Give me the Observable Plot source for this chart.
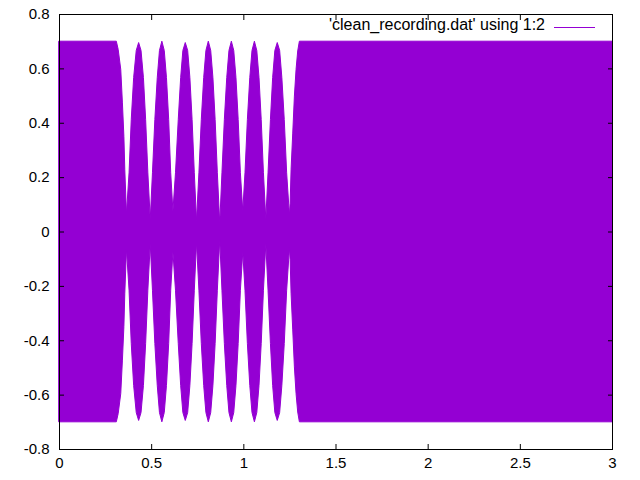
<!DOCTYPE html>
<html><head><meta charset="utf-8">
<script src="https://cdn.jsdelivr.net/npm/d3@7"></script>
<script src="https://cdn.jsdelivr.net/npm/@observablehq/plot@0.6"></script>
<style>body{margin:0;background:#fff} #chart{width:640px;height:480px}</style>
</head><body><div id="chart"></div>
<script>
// Tick values and labels
const xTicks = [0, 0.5, 1, 1.5, 2, 2.5, 3];
const xTickLabels = ["0", "0.5", "1", "1.5", "2", "2.5", "3"];
const yTicks = [-0.8, -0.6, -0.4, -0.2, 0, 0.2, 0.4, 0.6, 0.8];
const yTickLabels = ["-0.8", "-0.6", "-0.4", "-0.2", "0", "0.2", "0.4", "0.6", "0.8"];
const legendLabel = "'clean_recording.dat' using 1:2";

// Envelope of the (very dense) recorded signal, read from the picture:
// time (s) and peak amplitude; the trace fills from -amplitude to +amplitude.
const envT = [0, 0.311, 0.321, 0.335, 0.344, 0.352, 0.357, 0.366,
  0.380, 0.392, 0.405, 0.419, 0.432, 0.445, 0.458, 0.470, 0.482, 0.495,
  0.507, 0.520, 0.533, 0.545, 0.558, 0.571, 0.583, 0.595, 0.606, 0.618,
  0.632, 0.647, 0.660, 0.672, 0.685, 0.698, 0.710, 0.722, 0.734, 0.746,
  0.759, 0.772, 0.785, 0.797, 0.810, 0.823, 0.835, 0.847, 0.859, 0.872,
  0.884, 0.897, 0.910, 0.922, 0.935, 0.948, 0.960, 0.972, 0.984, 0.997,
  1.009, 1.022, 1.035, 1.047, 1.060, 1.073, 1.085, 1.097, 1.109, 1.122,
  1.134, 1.147, 1.159, 1.171, 1.184, 1.197, 1.209, 1.222, 1.235, 1.250,
  1.254, 1.259, 1.268, 1.277, 1.286, 1.295, 1.304, 3];
const envA = [0.70, 0.70, 0.67, 0.596, 0.473, 0.35, 0.227, 0.065,
  0.216, 0.412, 0.566, 0.666, 0.695, 0.666, 0.566, 0.412, 0.216, 0.045,
  0.216, 0.412, 0.566, 0.666, 0.700, 0.666, 0.566, 0.412, 0.216, 0.075,
  0.216, 0.412, 0.566, 0.666, 0.695, 0.666, 0.566, 0.412, 0.216, 0.040,
  0.216, 0.412, 0.566, 0.666, 0.700, 0.666, 0.566, 0.412, 0.216, 0.030,
  0.216, 0.412, 0.566, 0.666, 0.700, 0.666, 0.566, 0.412, 0.216, 0.075,
  0.216, 0.412, 0.566, 0.666, 0.700, 0.666, 0.566, 0.412, 0.216, 0.045,
  0.216, 0.412, 0.566, 0.666, 0.695, 0.666, 0.566, 0.412, 0.216, 0.060,
  0.104, 0.227, 0.362, 0.498, 0.596, 0.664, 0.70, 0.70];

const data = envT.map((t, i) => ({t, a: envA[i]}));
const color = "#9400d3";
const font = "'Liberation Sans', Arial, sans-serif";
const fs = 15;
const keyFs = 16;

const plot = Plot.plot({
  width: 640, height: 480,
  marginTop: 14, marginRight: 28, marginBottom: 31, marginLeft: 59,
  style: {fontFamily: font, fontSize: fs + "px", color: "#000", background: "#fff", overflow: "visible"},
  x: {domain: [0, 3]},
  y: {domain: [-0.8, 0.8]},
  marks: [
    Plot.areaY(data, {x: "t", y1: d => -d.a, y2: "a", fill: color, stroke: color, strokeWidth: 1, curve: "linear"}),
    Plot.frame({stroke: "#000", strokeWidth: 1}),
    // inward ticks on all four sides
    Plot.axisX({anchor: "bottom", ticks: xTicks, tickSize: -5, tickFormat: () => "", label: null}),
    Plot.axisX({anchor: "top", ticks: xTicks, tickSize: -5, tickFormat: () => "", label: null}),
    Plot.axisY({anchor: "left", ticks: yTicks, tickSize: -5, tickFormat: () => "", label: null}),
    Plot.axisY({anchor: "right", ticks: yTicks, tickSize: -5, tickFormat: () => "", label: null}),
    // tick labels
    Plot.axisX({anchor: "bottom", ticks: xTicks, tickSize: 0, tickPadding: 8, fontSize: fs,
      tickFormat: (d, i) => xTickLabels[i], label: null}),
    Plot.axisY({anchor: "left", ticks: yTicks, tickSize: 0, tickPadding: 10, fontSize: fs,
      tickFormat: (d, i) => yTickLabels[i], label: null})
  ]
});
document.getElementById("chart").appendChild(plot);

// key (top right, gnuplot style)
const svg = d3.select(plot);
const key = svg.append("g").attr("font-family", font).attr("font-size", keyFs);
key.append("text").attr("x", 545).attr("y", 30).attr("text-anchor", "end").attr("fill", "#000").text(legendLabel);
key.append("line").attr("x1", 554).attr("x2", 595).attr("y1", 27.5).attr("y2", 27.5)
  .attr("stroke", color).attr("stroke-width", 1).attr("shape-rendering", "crispEdges");
</script>
</body></html>
